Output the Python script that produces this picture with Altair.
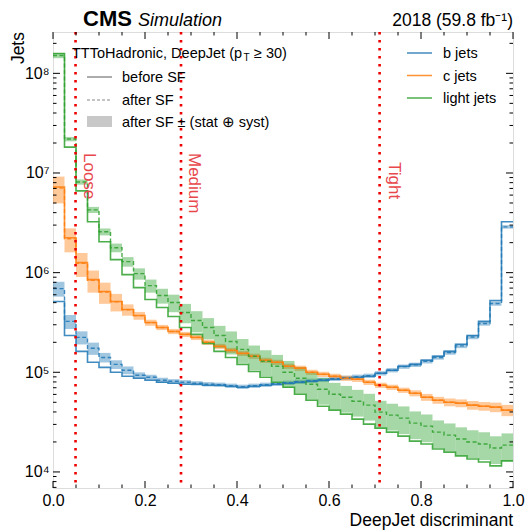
import altair as alt
import pandas as pd
import numpy as np

FONT = "Liberation Sans"

flavours = ["b jets", "c jets", "light jets"]
colours = ["#1f77b4", "#ff7f0e", "#2ca02c"]
bin_edges = [round(v, 4) for v in np.linspace(0.0, 1.0, 41)]

# b jets
b_before = [5.13e5, 2.34e5, 1.62e5, 1.26e5, 1.12e5, 1.00e5, 9.12e4, 8.71e4, 8.32e4, 7.94e4,
            7.76e4, 7.59e4, 7.59e4, 7.41e4, 7.41e4, 7.24e4, 7.08e4, 7.24e4, 7.41e4, 7.59e4,
            7.76e4, 7.94e4, 8.13e4, 8.32e4, 8.51e4, 8.71e4, 8.91e4, 9.12e4, 9.77e4, 1.05e5,
            1.15e5, 1.20e5, 1.32e5, 1.45e5, 1.62e5, 1.91e5, 2.34e5, 3.24e5, 5.25e5, 3.24e6]
b_after = [6.92e5, 3.24e5, 2.24e5, 1.74e5, 1.41e5, 1.20e5, 1.05e5, 9.33e4, 8.91e4, 8.32e4,
           8.13e4, 7.94e4, 7.76e4, 7.59e4, 7.50e4, 7.33e4, 7.16e4, 7.33e4, 7.50e4, 7.67e4,
           7.85e4, 8.04e4, 8.22e4, 8.41e4, 8.61e4, 8.81e4, 9.02e4, 9.23e4, 9.77e4, 1.05e5,
           1.14e5, 1.19e5, 1.29e5, 1.41e5, 1.58e5, 1.84e5, 2.26e5, 3.09e5, 4.90e5, 2.88e6]
b_unc = [0.17, 0.16, 0.15, 0.14, 0.11, 0.10, 0.09, 0.07, 0.06, 0.06,
         0.05, 0.05, 0.05, 0.05, 0.05, 0.05, 0.05, 0.05, 0.05, 0.05,
         0.05, 0.05, 0.05, 0.05, 0.05, 0.05, 0.05, 0.05, 0.05, 0.05,
         0.05, 0.05, 0.05, 0.05, 0.05, 0.05, 0.05, 0.05, 0.05, 0.04]

# c jets
c_before = [7.24e6, 2.24e6, 1.26e6, 8.51e5, 6.46e5, 5.13e5, 4.27e5, 3.72e5, 3.16e5, 2.82e5,
            2.57e5, 2.40e5, 2.24e5, 2.00e5, 1.82e5, 1.66e5, 1.55e5, 1.45e5, 1.32e5, 1.26e5,
            1.15e5, 1.10e5, 1.00e5, 9.55e4, 9.12e4, 8.71e4, 8.51e4, 7.94e4, 7.41e4, 7.08e4,
            6.61e4, 6.17e4, 5.62e4, 5.25e4, 5.01e4, 4.90e4, 4.68e4, 4.57e4, 4.47e4, 4.17e4]
c_after = [7.08e6, 2.19e6, 1.24e6, 8.40e5, 6.40e5, 5.10e5, 4.25e5, 3.70e5, 3.15e5, 2.82e5,
           2.57e5, 2.40e5, 2.24e5, 2.00e5, 1.82e5, 1.66e5, 1.55e5, 1.45e5, 1.32e5, 1.26e5,
           1.15e5, 1.10e5, 1.00e5, 9.55e4, 9.12e4, 8.71e4, 8.51e4, 7.94e4, 7.41e4, 7.08e4,
           6.61e4, 6.17e4, 5.62e4, 5.25e4, 5.01e4, 4.90e4, 4.68e4, 4.57e4, 4.47e4, 4.17e4]
c_unc = [0.30, 0.27, 0.27, 0.25, 0.24, 0.20, 0.13, 0.09, 0.07, 0.06,
         0.06, 0.06, 0.06, 0.06, 0.06, 0.06, 0.06, 0.06, 0.06, 0.06,
         0.06, 0.06, 0.06, 0.06, 0.06, 0.06, 0.06, 0.06, 0.06, 0.06,
         0.06, 0.07, 0.08, 0.08, 0.09, 0.09, 0.10, 0.10, 0.11, 0.13]

# light jets
l_before = [1.58e8, 1.82e7, 6.61e6, 3.24e6, 2.04e6, 1.35e6, 9.55e5, 7.08e5, 5.37e5, 4.47e5,
            3.63e5, 2.82e5, 2.40e5, 1.95e5, 1.62e5, 1.41e5, 1.20e5, 1.02e5, 8.91e4, 7.94e4,
            7.08e4, 6.03e4, 5.25e4, 4.57e4, 4.17e4, 3.80e4, 3.39e4, 3.02e4, 2.75e4, 2.51e4,
            2.29e4, 2.04e4, 1.91e4, 1.70e4, 1.58e4, 1.45e4, 1.35e4, 1.26e4, 1.15e4, 1.29e4]
l_after = [1.51e8, 2.19e7, 8.13e6, 4.27e6, 2.57e6, 1.78e6, 1.29e6, 9.77e5, 7.41e5, 5.89e5,
           5.01e5, 3.98e5, 3.31e5, 2.82e5, 2.34e5, 2.04e5, 1.70e5, 1.45e5, 1.29e5, 1.15e5,
           1.00e5, 8.71e4, 7.59e4, 6.76e4, 6.03e4, 5.62e4, 5.13e4, 4.68e4, 3.98e4, 3.72e4,
           3.47e4, 3.09e4, 2.88e4, 2.51e4, 2.34e4, 2.14e4, 2.00e4, 1.91e4, 1.74e4, 1.86e4]
l_unc = [0.06, 0.05, 0.06, 0.07, 0.08, 0.10, 0.11, 0.13, 0.15, 0.17,
         0.20, 0.22, 0.24, 0.24, 0.25, 0.26, 0.27, 0.28, 0.29, 0.30,
         0.30, 0.30, 0.30, 0.30, 0.30, 0.30, 0.30, 0.30, 0.30, 0.30,
         0.31, 0.31, 0.31, 0.31, 0.31, 0.31, 0.31, 0.31, 0.31, 0.31]

wp_names = ["Loose", "Medium", "Tight"]
wp_values = [0.0490, 0.2783, 0.7100]

x_major = [0.0, 0.2, 0.4, 0.6, 0.8, 1.0]
x_minor = [0.05, 0.1, 0.15, 0.25, 0.3, 0.35, 0.45, 0.5, 0.55, 0.65, 0.7, 0.75, 0.85, 0.9, 0.95]
y_major = [1e4, 1e5, 1e6, 1e7, 1e8]
y_major_labels = ["10⁴", "10⁵", "10⁶", "10⁷", "10⁸"]
y_minor = [7e3, 8e3, 9e3] + [k * 10.0 ** e for e in range(4, 8) for k in range(2, 10)] + [2e8]
y_domain = [6900, 2.6e8]

legend_header = ["TTToHadronic, DeepJet (p", "T", "≥ 30)"]
legend_style = ["before SF", "after SF", "after SF ± (stat ⊕ syst)"]

W, H = 460, 456

# ---------- tables ----------
series = {"b jets": (b_before, b_after, b_unc),
          "c jets": (c_before, c_after, c_unc),
          "light jets": (l_before, l_after, l_unc)}
line_rows, band_rows = [], []
for flav in flavours:
    before, after, unc = series[flav]
    for i in range(41):
        j = min(i, 39)
        line_rows.append({"flav": flav, "x": bin_edges[i], "before": before[j], "after": after[j]})
    for i in range(40):
        band_rows.append({"flav": flav, "x0": bin_edges[i], "x1": bin_edges[i + 1],
                          "lo": after[i] * (1 - unc[i]), "hi": after[i] * (1 + unc[i])})
df_line = pd.DataFrame(line_rows)
df_band = pd.DataFrame(band_rows)

xs = alt.Scale(domain=[0, 1], nice=False, zero=False)
ys = alt.Scale(type="log", domain=y_domain, nice=False)
cs = alt.Scale(domain=flavours, range=colours)

label_expr = " : ".join(
    f"datum.value == {v:g} ? '{t}'" for v, t in zip(y_major, y_major_labels)) + " : ''"

x_axis = alt.Axis(values=x_major, format=".1f", title=None, ticks=False, domain=False, grid=False,
                  labelFontSize=16, labelFont=FONT, labelColor="black", labelPadding=4,
                  labelFlush=False, labelOverlap=False)
y_axis = alt.Axis(values=y_major, labelExpr=label_expr, title=None, ticks=False, domain=False,
                  grid=False, labelFontSize=16, labelFont=FONT, labelColor="black",
                  labelPadding=4, labelOverlap=False)

band = alt.Chart(df_band).mark_rect(opacity=0.42, strokeWidth=0).encode(
    x=alt.X("x0:Q", scale=xs, axis=x_axis), x2="x1:Q",
    y=alt.Y("lo:Q", scale=ys, axis=y_axis), y2="hi:Q",
    color=alt.Color("flav:N", scale=cs, legend=None))

solid = alt.Chart(df_line).mark_line(interpolate="step-after", strokeWidth=1.6, opacity=0.85).encode(
    x=alt.X("x:Q", scale=xs, axis=x_axis),
    y=alt.Y("before:Q", scale=ys, axis=y_axis),
    color=alt.Color("flav:N", scale=cs, legend=None))

dashed = alt.Chart(df_line).mark_line(interpolate="step-after", strokeWidth=1.4, opacity=0.85,
                                      strokeDash=[4, 2.5]).encode(
    x=alt.X("x:Q", scale=xs, axis=x_axis),
    y=alt.Y("after:Q", scale=ys, axis=y_axis),
    color=alt.Color("flav:N", scale=cs, legend=None))

df_wp = pd.DataFrame({"name": wp_names, "x": wp_values})
wp_lines = alt.Chart(df_wp).mark_rule(color="#ee0000", strokeWidth=2.6, strokeDash=[2.4, 5.6]).encode(
    x=alt.X("x:Q", scale=xs, axis=x_axis), y=alt.value(0), y2=alt.value(H))
wp_text_lm = alt.Chart(df_wp).transform_filter(alt.datum.name != "Tight").mark_text(
    angle=90, align="left", baseline="middle", dy=-13,
    font=FONT, fontSize=17, color="#e8474c").encode(
    x=alt.X("x:Q", scale=xs, axis=x_axis), y=alt.value(121), text="name:N")
wp_text_t = alt.Chart(df_wp).transform_filter(alt.datum.name == "Tight").mark_text(
    angle=90, align="left", baseline="middle", dy=-14,
    font=FONT, fontSize=17, color="#e8474c").encode(
    x=alt.X("x:Q", scale=xs, axis=x_axis), y=alt.value(130), text="name:N")

# ---------- ticks (inside, on all four sides) ----------
def xticks(vals, length):
    d = pd.DataFrame({"x": vals})
    bottom = alt.Chart(d).mark_rule(color="black", strokeWidth=1).encode(
        x=alt.X("x:Q", scale=xs, axis=x_axis), y=alt.value(H), y2=alt.value(H - length))
    top = alt.Chart(d).mark_rule(color="black", strokeWidth=1).encode(
        x=alt.X("x:Q", scale=xs, axis=x_axis), y=alt.value(0), y2=alt.value(length))
    return [bottom, top]

def yticks(vals, length):
    d = pd.DataFrame({"y": vals})
    left = alt.Chart(d).mark_rule(color="black", strokeWidth=1).encode(
        y=alt.Y("y:Q", scale=ys, axis=y_axis), x=alt.value(0), x2=alt.value(length))
    right = alt.Chart(d).mark_rule(color="black", strokeWidth=1).encode(
        y=alt.Y("y:Q", scale=ys, axis=y_axis), x=alt.value(W), x2=alt.value(W - length))
    return [left, right]

ticks = xticks(x_major, 7) + xticks(x_minor, 3.5) + yticks(y_major, 7) + yticks(y_minor, 3.5)

# ---------- texts ----------
one = pd.DataFrame({"d": [0]})

def txt(text, x, y, **kw):
    return alt.Chart(one).mark_text(text=text, font=FONT, **kw).encode(
        x=alt.value(x), y=alt.value(y))

texts = [
    txt("CMS", 30, -6, fontSize=22, fontWeight="bold", align="left", baseline="alphabetic"),
    txt("Simulation", 85, -6, fontSize=18, fontStyle="italic", align="left", baseline="alphabetic"),
    txt("2018 (59.8 fb⁻¹)", W, -6, fontSize=17.5, align="right", baseline="alphabetic"),
    txt("Jets", -29, 0, fontSize=17.5, angle=270, align="right", baseline="alphabetic"),
    txt("DeepJet discriminant", W, 494, fontSize=17.5, align="right", baseline="alphabetic"),
    # left legend
    txt(legend_header[0], 19, 26, fontSize=14.5, align="left", baseline="alphabetic"),
    txt(legend_header[1], 190.5, 29, fontSize=10, align="left", baseline="alphabetic"),
    txt(legend_header[2], 201, 26, fontSize=14.5, align="left", baseline="alphabetic"),
    txt(legend_style[0], 69, 50, fontSize=14.5, align="left", baseline="alphabetic"),
    txt(legend_style[1], 69, 73, fontSize=14.5, align="left", baseline="alphabetic"),
    txt(legend_style[2], 69, 95, fontSize=14.5, align="left", baseline="alphabetic"),
]
for k, flav in enumerate(flavours):
    texts.append(txt(flav, 390, 26 + 22.5 * k, fontSize=14.5, align="left", baseline="alphabetic"))

leg_marks = [
    alt.Chart(one).mark_rule(color="#888888", strokeWidth=1.4).encode(
        x=alt.value(34), x2=alt.value(59), y=alt.value(45)),
    alt.Chart(one).mark_rule(color="#888888", strokeWidth=1.2, strokeDash=[3, 2]).encode(
        x=alt.value(34), x2=alt.value(59), y=alt.value(68)),
    alt.Chart(one).mark_rect(color="#c8c8c8").encode(
        x=alt.value(34), x2=alt.value(59), y=alt.value(84), y2=alt.value(95)),
]
for k, flav in enumerate(flavours):
    leg_marks.append(alt.Chart(one).mark_rule(color=colours[k], strokeWidth=1.5, opacity=0.85).encode(
        x=alt.value(354), x2=alt.value(379), y=alt.value(21 + 22.5 * k)))

chart = alt.layer(band, solid, dashed, wp_lines, wp_text_lm, wp_text_t, *ticks, *leg_marks, *texts).properties(
    width=W, height=H,
    padding={"left": 53, "top": 32, "right": 17, "bottom": 42},
    autosize=alt.AutoSizeParams(type="none"),
).configure_view(stroke="#111111", strokeWidth=1.3).configure(background="white")

chart.save("out.html", embed_options={"renderer": "svg", "actions": False})
